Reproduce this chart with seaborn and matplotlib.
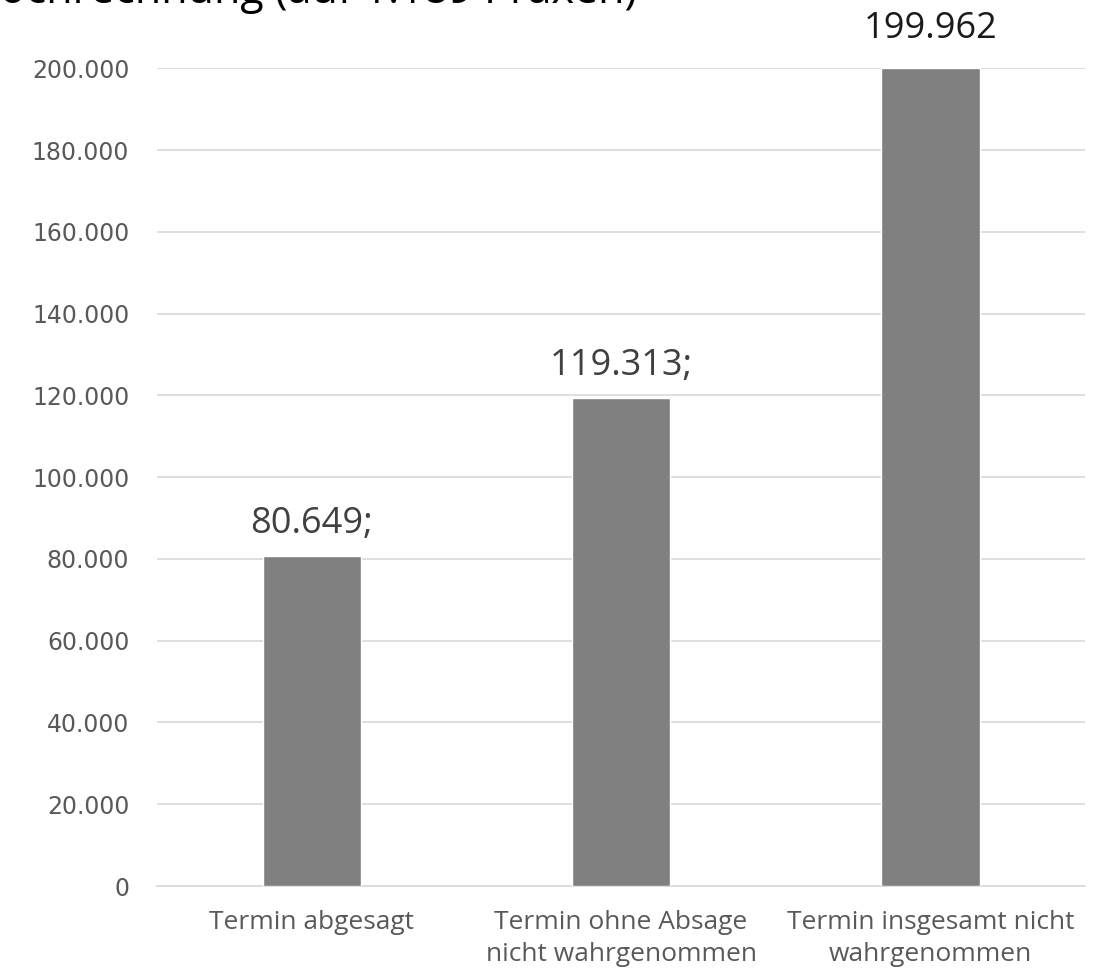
import seaborn as sns
import matplotlib.pyplot as plt
import pandas as pd

categories = ["Termin abgesagt",
              "Termin ohne Absage\nnicht wahrgenommen",
              "Termin insgesamt nicht\nwahrgenommen"]
values = [80649, 119313, 199962]
value_labels = ["80.649;", "119.313;", "199.962"]
title = "Hochrechnung (auf 1.189 Praxen)"

def main():
    sns.set_style("white")
    df = pd.DataFrame({"cat": categories, "val": values})

    fig = plt.figure(figsize=(11.14, 9.77), dpi=100)
    ax = fig.add_axes([0.141, 0.0931, 0.833, 0.837])
    sns.barplot(data=df, x="cat", y="val", color="#808080", saturation=1,
                width=0.318, ax=ax, zorder=3)

    ax.set_ylim(0, 200000)
    ax.set_yticks(range(0, 200001, 20000))
    ax.set_yticklabels([f"{v:,}".replace(",", ".") for v in range(0, 200001, 20000)],
                       fontsize=17, color="#595959", family="DejaVu Sans")
    ax.set_xticks(range(len(categories)))
    ax.set_xticklabels(categories, fontsize=19, color="#595959",
                       family="Open Sans", linespacing=1.38)
    ax.tick_params(axis="y", length=0, pad=20)
    ax.tick_params(axis="x", length=0, pad=17)
    ax.yaxis.grid(True, color="#d9d9d9", linewidth=1.2, zorder=0)
    for s in ["top", "right", "left"]:
        ax.spines[s].set_visible(False)
    ax.spines["bottom"].set_color("#d9d9d9")
    ax.spines["bottom"].set_linewidth(1.2)
    ax.set_xlabel("")
    ax.set_ylabel("")

    offsets = [17, 17, 22]
    colors = ["#404040", "#404040", "#1a1a1a"]
    for i, (v, lab) in enumerate(zip(values, value_labels)):
        ax.annotate(lab, (i, v), xytext=(0, offsets[i]), textcoords="offset points",
                    ha="center", va="baseline", fontsize=26, color=colors[i],
                    family="Open Sans", annotation_clip=False)

    # title is cut off at the top edge, as in the original
    fig.text(-0.029, 1 - 3 / 977, title, fontsize=31, color="black",
             family="Open Sans", va="baseline", ha="left")

    plt.savefig("out.png", dpi=100)

if __name__ == "__main__":
    main()
